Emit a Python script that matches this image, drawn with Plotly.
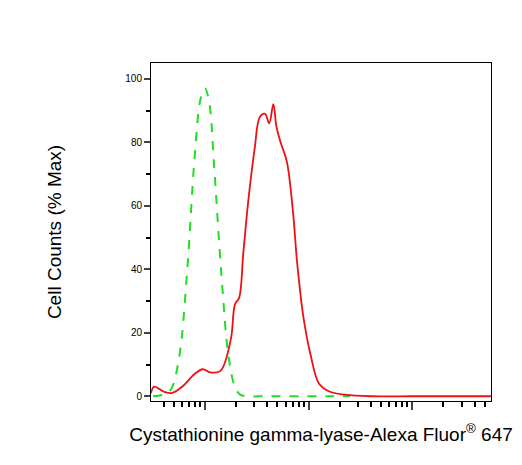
import plotly.graph_objects as go

# x positions in log10 units, y in % max
ctrl_x = [1.50, 1.60, 1.67, 1.75, 1.83, 1.90, 1.96, 2.00, 2.04, 2.09, 2.16, 2.23, 2.29, 2.34, 2.41, 2.6, 2.8, 3.0, 3.2, 3.4]
ctrl_y = [0, 0.5, 2, 12, 40, 75, 94, 97, 93, 72, 38, 12, 3, 0.5, 0, 0, 0, 0, 0, 0]

stain_x = [1.48, 1.51, 1.60, 1.68, 1.78, 1.90, 1.98, 2.05, 2.15, 2.25, 2.29, 2.33, 2.37, 2.42, 2.48, 2.53, 2.58, 2.62,
           2.66, 2.69, 2.73, 2.79, 2.85, 2.89, 2.95, 3.02, 3.10, 3.20, 3.35, 3.6, 4.0, 4.4, 4.76]
stain_y = [1, 3, 1.5, 1, 3, 7, 8.5, 7.5, 8, 18, 29, 31, 45, 62, 78, 88, 89, 86, 92, 85, 80, 74, 58, 42, 25, 13, 4, 1.5, 0.5, 0, 0, 0, 0]

fig = go.Figure()
fig.add_trace(go.Scatter(x=[10 ** v for v in ctrl_x], y=ctrl_y, mode="lines",
                         line=dict(color="#22dd22", width=2, dash="dash", shape="spline")))
fig.add_trace(go.Scatter(x=[10 ** v for v in stain_x], y=stain_y, mode="lines",
                         line=dict(color="#ee1111", width=1.8, shape="spline")))

fig.update_layout(
    width=522, height=465, showlegend=False,
    paper_bgcolor="white", plot_bgcolor="white",
    margin=dict(l=143, r=39, t=55, b=72),
    font=dict(family="Liberation Sans, Arial", color="black"),
)
fig.update_xaxes(type="log", range=[1.48, 4.76], dtick=1, showticklabels=False,
                 ticks="outside", ticklen=8, tickwidth=2, showgrid=False,
                 showline=True, linecolor="black", mirror=True,
                 minor=dict(ticks="outside", ticklen=5, tickcolor="black", showgrid=False),
                 title=dict(text="Cystathionine gamma-lyase-Alexa Fluor<sup>®</sup> 647", font=dict(size=19), standoff=18))
fig.update_yaxes(range=[-1.5, 105], tickvals=[0, 20, 40, 60, 80, 100], tickfont=dict(size=10),
                 ticks="outside", ticklen=6, tickwidth=2, showgrid=False, zeroline=False,
                 showline=True, linecolor="black", mirror=True,
                 minor=dict(dtick=10, ticks="outside", ticklen=4, tickcolor="black", showgrid=False),
                 title=dict(text="Cell Counts (% Max)", font=dict(size=19), standoff=58))

fig.write_html("out.html")
